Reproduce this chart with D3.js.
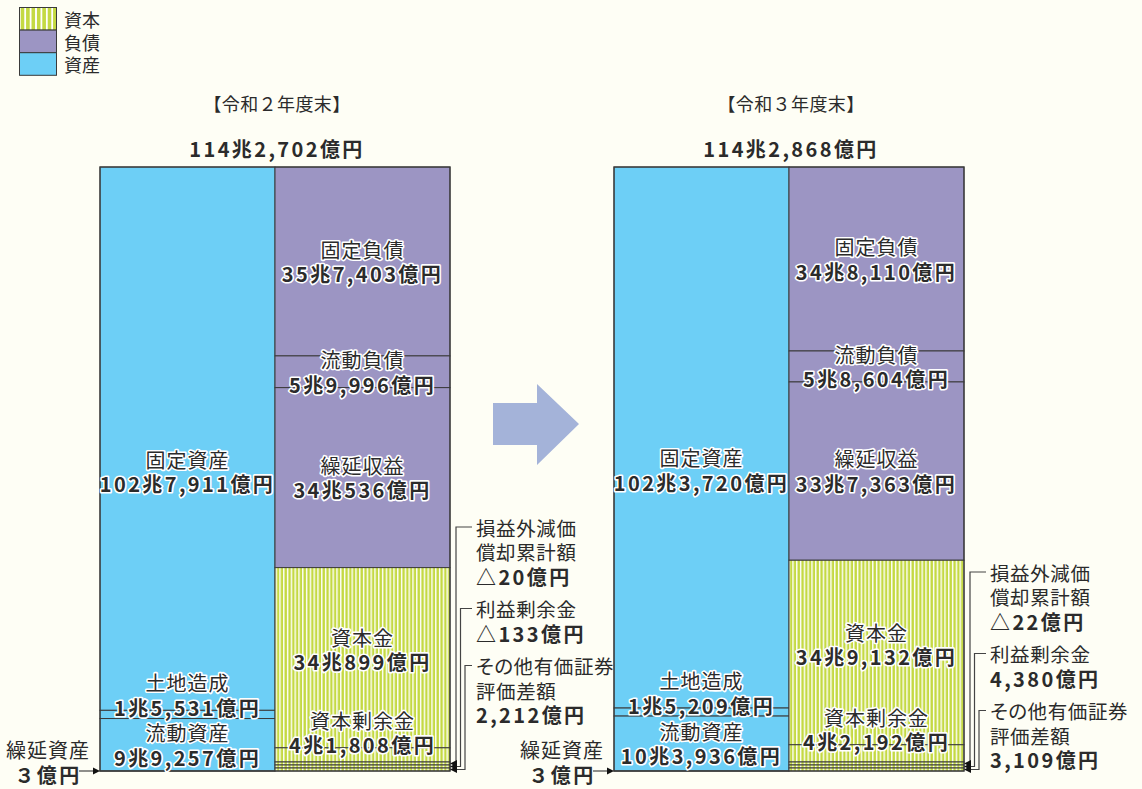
<!DOCTYPE html>
<html><head><meta charset="utf-8">
<script src="https://cdn.jsdelivr.net/npm/d3@7"></script>
<style>
body{margin:0;background:#fefef5;}
svg{display:block;}
text{font-family:"Noto Sans CJK JP","Noto Sans",sans-serif;}
text.p{font-feature-settings:"palt";}
</style></head><body>
<svg id="c" width="1142" height="789"></svg>
<script>
// ---------- data (単位: 億円) ----------
const periods = ["【令和２年度末】", "【令和３年度末】"];
const totalLabels = ["114兆2,702億円", "114兆2,868億円"];
const assetNames = ["固定資産", "土地造成", "流動資産", "繰延資産"];
const assetValues = [[1027911, 15531, 99257, 3], [1023720, 15209, 103936, 3]];
const liabNames = ["固定負債", "流動負債", "繰延収益"];
const liabValues = [[357403, 59996, 340536], [348110, 58604, 337363]];
const capNames = ["資本金", "資本剰余金", "損益外減価\n償却累計額", "利益剰余金", "その他有価証券\n評価差額"];
const capValues = [[340899, 41808, -20, -133, 2212], [349132, 42192, -22, 4380, 3109]];
const legendNames = ["資本", "負債", "資産"];

// ---------- style ----------
const C = {asset:"#6dcff6", liab:"#9c95c3", cap:"#c4d943", line:"#3a3a3a", text:"#2b2b2b"};
const svg = d3.select("#c");
const defs = svg.append("defs");
function stripes(id, w, lw){
  const p = defs.append("pattern").attr("id", id).attr("patternUnits","userSpaceOnUse")
    .attr("width", w).attr("height", 10);
  p.append("rect").attr("width", w).attr("height", 10).attr("fill", C.cap);
  p.append("rect").attr("x", w/2).attr("width", lw).attr("height", 10).attr("fill", "#fff");
}
stripes("st", 3.8, 1.4);
stripes("stL", 5.4, 1.8);

function fmt(v){
  const a = Math.abs(v), cho = Math.floor(a/10000), oku = a % 10000;
  let s = v < 0 ? "△" : "";
  if (cho > 0) s += cho + "兆";
  if (a < 10) s += String.fromCharCode(0xFF10 + a); else s += d3.format(",")(oku);
  return s + "億円";
}

// ---------- legend ----------
const lg = svg.append("g");
const legFill = ["url(#stL)", C.liab, C.asset];
legendNames.forEach((n, k) => {
  lg.append("rect").attr("x", 19.5).attr("y", 7.5 + 22.6*k).attr("width", 37).attr("height", 22.6)
    .attr("fill", legFill[k]).attr("stroke", C.line).attr("stroke-width", 1);
  lg.append("text").attr("x", 64).attr("y", 19 + 22.6*k).attr("dominant-baseline","central")
    .attr("font-size", 18).attr("fill", C.text).text(n);
});

// ---------- layout ----------
const colW = 175, yTop = 167, yBottom = 771;
const panelX = d3.scalePoint().domain([0, 1]).range([100, 614]);
const annoTop = [527, 572];
const lineH = 24.5;
const FS = 20;

function label(g, x, yc, lines, halo=true){
  const n = lines.length;
  lines.forEach((l, k) => {
    const t = g.append("text").attr("x", x).attr("y", yc + (k - (n-1)/2)*lineH)
      .attr("text-anchor","middle").attr("dominant-baseline","central")
      .attr("font-size", FS).attr("fill", C.text)
      .attr("font-weight", l.b ? 700 : 400)
      .attr("letter-spacing", l.b ? 2.4 : 1)
      .text(l.t);
    if (halo) t.attr("stroke","#fff").attr("stroke-width", 3.2).attr("stroke-linejoin","round").attr("paint-order","stroke");
  });
}

function arrowHead(g, x, y, dir){
  g.append("path").attr("d", `M${x},${y} l${7*dir},-3.5 v7 z`).attr("fill", "#111");
}

periods.forEach((p, i) => {
  const g = svg.append("g");
  const x0 = panelX(i), x1 = x0 + colW, x2 = x1 + colW;
  const y = d3.scaleLinear().domain([0, d3.sum(assetValues[i])]).range([yTop, yBottom]);

  // headers
  g.append("text").attr("x", x1 + 2).attr("y", 103).attr("text-anchor","middle").attr("dominant-baseline","central")
    .attr("font-size", 18).attr("letter-spacing", 0.4).attr("fill", C.text).text(p);
  g.append("text").attr("x", x1 + 2).attr("y", 148).attr("text-anchor","middle").attr("dominant-baseline","central")
    .attr("font-size", FS).attr("font-weight", 700).attr("letter-spacing", 2.4).attr("fill", C.text).text(totalLabels[i]);

  // assets column
  let cum = 0;
  const aBands = assetValues[i].map((v, k) => { const b = {k, y0: y(cum), y1: y(cum + v), v}; cum += v; return b; });
  aBands.forEach(b => {
    g.append("rect").attr("x", x0).attr("y", b.y0).attr("width", colW).attr("height", Math.max(0, b.y1 - b.y0))
      .attr("fill", C.asset).attr("stroke", C.line).attr("stroke-width", 1);
  });

  // liabilities + capital column
  cum = 0;
  const lBands = liabValues[i].map((v, k) => { const b = {y0: y(cum), y1: y(cum + v)}; cum += v; return b; });
  const capMain = {y0: y(cum), y1: y(cum + capValues[i][0])}; cum += capValues[i][0];
  const smallH = 3, nSmall = 3;
  const surplus = {y0: capMain.y1, y1: Math.min(y(cum + capValues[i][1]), yBottom - smallH*nSmall)};
  const smalls = d3.range(nSmall).map(k => ({y0: surplus.y1 + smallH*k, y1: surplus.y1 + smallH*(k+1)}));
  lBands.forEach(b => g.append("rect").attr("x", x1).attr("y", b.y0).attr("width", colW).attr("height", b.y1 - b.y0)
    .attr("fill", C.liab).attr("stroke", C.line).attr("stroke-width", 1));
  [capMain, surplus, ...smalls].forEach(b => g.append("rect").attr("x", x1).attr("y", b.y0).attr("width", colW).attr("height", b.y1 - b.y0)
    .attr("fill", "url(#st)").attr("stroke", C.line).attr("stroke-width", 1));
  // outer frame
  g.append("rect").attr("x", x0).attr("y", yTop).attr("width", colW*2).attr("height", yBottom - yTop)
    .attr("fill", "none").attr("stroke", C.line).attr("stroke-width", 1.2);

  // asset labels
  const fa = aBands[0];
  label(g, x0 + colW/2, fa.y0 + (fa.y1 - fa.y0)*0.56, [{t: assetNames[0]}, {t: fmt(assetValues[i][0]), b: 1}]);
  label(g, x0 + colW/2, aBands[1].y0 - 3 - lineH/2, [{t: assetNames[1]}, {t: fmt(assetValues[i][1]), b: 1}]);
  label(g, x0 + colW/2, (aBands[2].y0 + aBands[2].y1)/2, [{t: assetNames[2]}, {t: fmt(assetValues[i][2]), b: 1}]);
  // liability labels
  lBands.forEach((b, k) => label(g, x1 + colW/2, (b.y0 + b.y1)/2, [{t: liabNames[k]}, {t: fmt(liabValues[i][k]), b: 1}]));
  label(g, x1 + colW/2, (capMain.y0 + capMain.y1)/2 - 8, [{t: capNames[0]}, {t: fmt(capValues[i][0]), b: 1}]);
  label(g, x1 + colW/2, surplus.y0 - 3 - lineH/2, [{t: capNames[1]}, {t: fmt(capValues[i][1]), b: 1}]);

  // deferred assets callout (left)
  const da = aBands[3];
  label(g, x0 - 52, 762, [{t: assetNames[3]}, {t: fmt(assetValues[i][3]), b: 1}], false);
  g.append("line").attr("x1", x0 - 21).attr("x2", x0 - 6).attr("y1", da.y0).attr("y2", da.y0)
    .attr("stroke", "#444").attr("stroke-width", 1.2);
  arrowHead(g, x0, da.y0, -1);

  // small capital callouts (right)
  let ty = annoTop[i];
  capNames.slice(2).forEach((n, k) => {
    const v = capValues[i][k + 2];
    const lines = n.split("\n").map(t => ({t})).concat([{t: fmt(v), b: 1}]);
    const tx = x2 + 26;
    lines.forEach((l, j) => {
      g.append("text").attr("class", l.b ? null : "p").attr("x", tx).attr("y", ty + j*lineH).attr("dominant-baseline","central")
        .attr("font-size", l.b ? FS : 19.5).attr("font-weight", l.b ? 700 : 400).attr("letter-spacing", l.b ? 2.4 : 0.6)
        .attr("fill", C.text).text(l.t);
    });
    const vx = x2 + 6 + 4.5*k, by = (smalls[k].y0 + smalls[k].y1)/2;
    g.append("path").attr("d", `M${tx - 4},${ty} H${vx} V${by} H${x2 + 6}`)
      .attr("fill", "none").attr("stroke", "#444").attr("stroke-width", 1.2);
    arrowHead(g, x2, by, 1);
    ty += (lines.length - 1)*lineH + 32.5;
  });
});

// central arrow
svg.append("path").attr("d", "M493,403 H537 V384 L579,424 L537,465 V445 H493 Z").attr("fill", "#a4b3d9");
</script></body></html>
